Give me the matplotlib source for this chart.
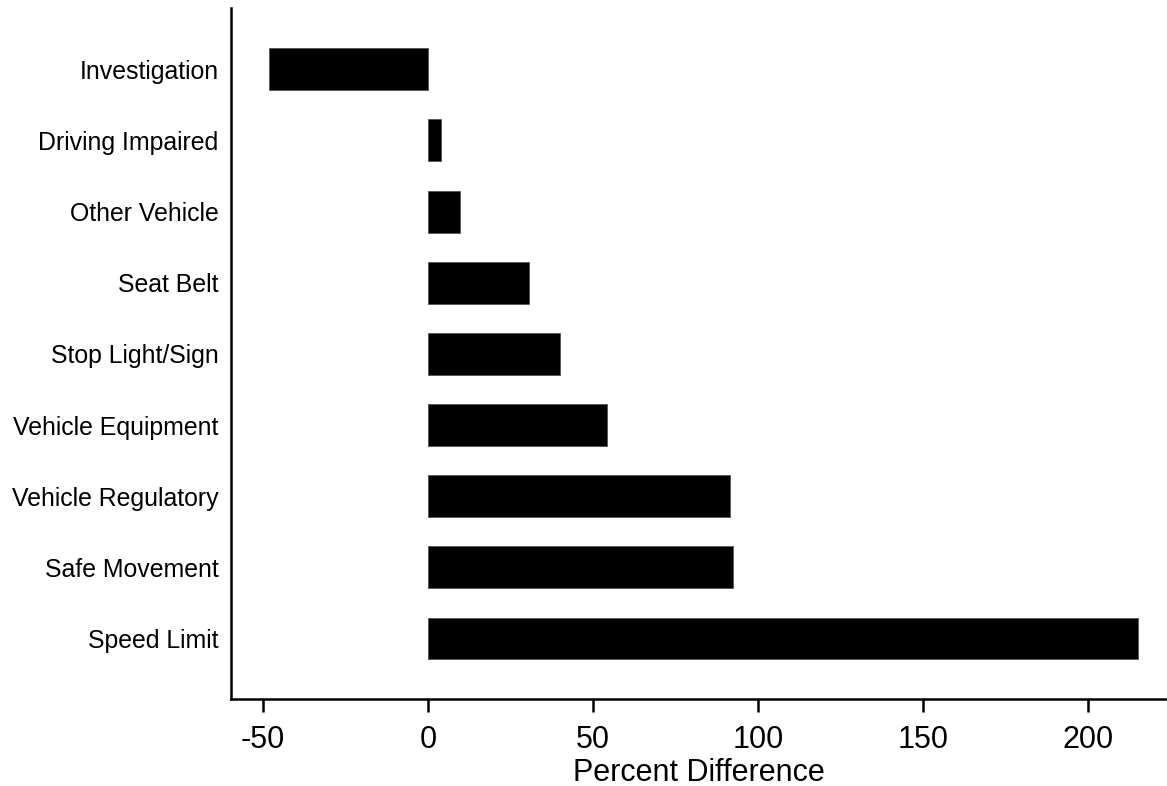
import numpy as np
import matplotlib
matplotlib.use("Agg")
import matplotlib.pyplot as plt

# 数据（自下而上）
categories = ["Speed Limit", "Safe Movement", "Vehicle Regulatory",
              "Vehicle Equipment", "Stop Light/Sign", "Seat Belt",
              "Other Vehicle", "Driving Impaired", "Investigation"]
pct_diff = [215.3, 92.5, 91.5, 54.2, 40.0, 30.7, 9.8, 3.9, -48.1]
x_ticks = [-50, 0, 50, 100, 150, 200]

plt.rcParams['font.family'] = ['Liberation Sans', 'DejaVu Sans']

fig = plt.figure(figsize=(11.67, 7.86), dpi=100)
ax = fig.add_axes([0.198, 0.1107, 0.802, 0.879])

y = np.arange(len(categories))
ax.barh(y, pct_diff, height=0.59, color='black', edgecolor='#555555', linewidth=0.6)

ax.set_yticks(y)
ax.set_yticklabels(categories, fontsize=17.9)
ax.set_xticks(x_ticks)
ax.set_xticklabels([str(t) for t in x_ticks], fontsize=22)
ax.set_xlim(-59.7, 224)
ax.set_ylim(-0.85, len(categories) - 1 + 0.86)
ax.set_xlabel('Percent Difference', fontsize=22, labelpad=2)

# 外框：只保留左、下
for side in ['top', 'right']:
    ax.spines[side].set_visible(False)
for side in ['left', 'bottom']:
    ax.spines[side].set_linewidth(1.8)

ax.tick_params(axis='y', length=0, pad=9)
ax.tick_params(axis='x', length=9, width=1.8, pad=10)

fig.savefig('out.png', dpi=100)
